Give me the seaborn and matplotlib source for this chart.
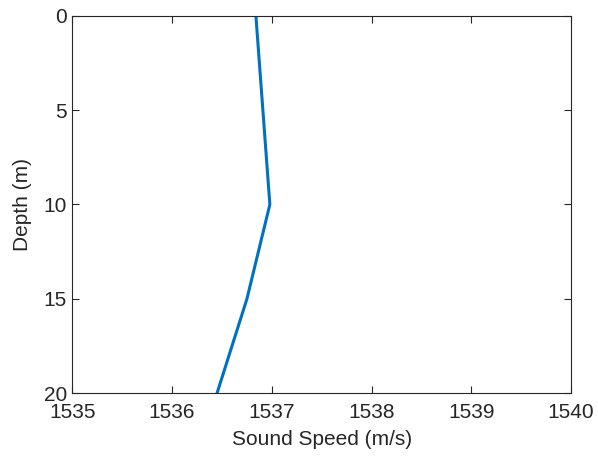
import matplotlib
matplotlib.use("Agg")
import matplotlib.pyplot as plt
import seaborn as sns
import pandas as pd

depth_m = [0, 10, 15, 20]
sound_speed = [1536.84, 1536.98, 1536.75, 1536.45]
x_ticks = [1535, 1536, 1537, 1538, 1539, 1540]
y_ticks = [0, 5, 10, 15, 20]

sns.set_style("white")
plt.rcParams['font.family'] = ['Liberation Sans', 'DejaVu Sans']

df = pd.DataFrame({"depth": depth_m, "speed": sound_speed})

fig = plt.figure(figsize=(5.98, 4.59), dpi=100)
ax = fig.add_axes([0.121, 0.143, 0.834, 0.823])
sns.lineplot(data=df, x="speed", y="depth", sort=False, color="#0072BD",
             linewidth=2.2, ax=ax, estimator=None)
ax.set_xlim(1535, 1540)
ax.set_ylim(20, 0)
ax.set_xticks(x_ticks)
ax.set_yticks(y_ticks)
ax.set_xticklabels([str(t) for t in x_ticks])
ax.set_yticklabels([str(t) for t in y_ticks])
axcol = "#262626"
for s in ax.spines.values():
    s.set_visible(True)
    s.set_color(axcol)
    s.set_linewidth(0.8)
ax.tick_params(direction="in", length=5, width=0.8, color=axcol,
               labelsize=15, labelcolor=axcol, top=True, right=True,
               left=True, bottom=True, labeltop=False, labelright=False)
ax.tick_params(axis="x", pad=7)
ax.tick_params(axis="y", pad=4)
ax.set_xlabel("Sound Speed (m/s)", fontsize=15, color=axcol, labelpad=6)
ax.set_ylabel("Depth (m)", fontsize=15, color=axcol, labelpad=8)
fig.savefig("out.png", dpi=100)
